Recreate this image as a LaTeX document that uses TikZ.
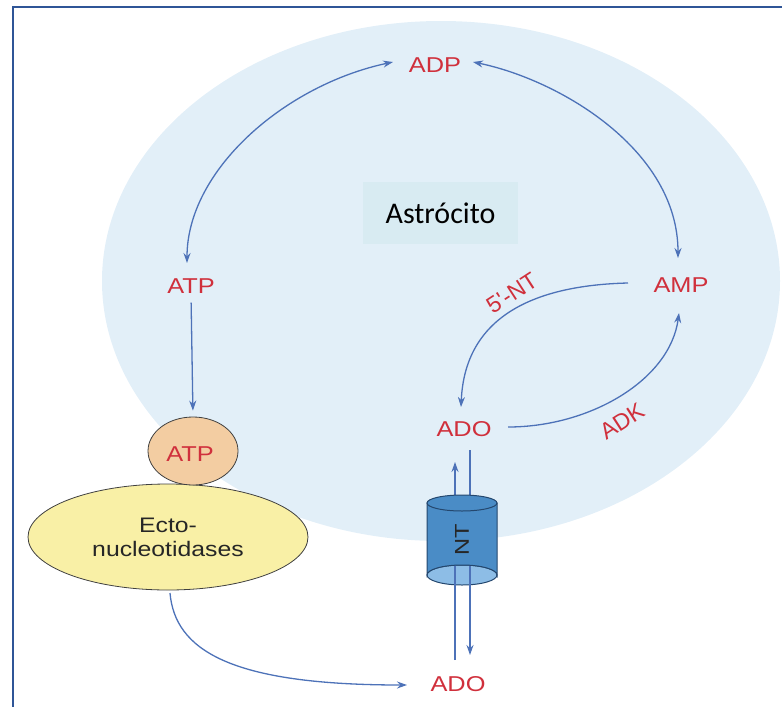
\documentclass[tikz,border=0pt]{standalone}
\usepackage{graphicx}
\usepackage{fontspec}
\setmainfont{Liberation Sans}
\newfontfamily\carlito{Carlito}
\usetikzlibrary{arrows.meta,shapes.geometric}
\definecolor{astro}{HTML}{E2EFF8}
\definecolor{astbox}{HTML}{D8EBF2}
\definecolor{labred}{HTML}{D0303C}
\definecolor{arrblue}{HTML}{4D72B8}
\definecolor{frameblue}{HTML}{2F5597}
\definecolor{atpfill}{HTML}{F3CDA2}
\definecolor{ectofill}{HTML}{F9F0A6}
\definecolor{ntbody}{HTML}{4A8CC6}
\definecolor{ntface}{HTML}{8DBDE6}
\definecolor{ntline}{HTML}{24476E}
\newcommand{\wtxt}[1]{\scalebox{1.18}[1]{#1}}
\tikzset{
  lbl/.style={text=labred, font=\fontsize{21.5}{22}\selectfont, inner sep=1pt},
  rlbl/.style={text=labred, font=\fontsize{23}{23}\selectfont, inner sep=1pt},
  conn/.style={draw=arrblue, line width=1.3pt},
  tipend/.style={-{Stealth[length=10pt,width=7pt]}},
  tipboth/.style={{Stealth[length=10pt,width=7pt]}-{Stealth[length=10pt,width=7pt]}},
}
\begin{document}
\begin{tikzpicture}[x=1pt,y=-1pt]
\useasboundingbox (0,0) rectangle (782,707);
% astrocyte
\fill[astro] (441,281) ellipse [x radius=339, y radius=260];
% frame
\draw[frameblue, line width=2pt] (13,707) -- (13,6.5) -- (782,6.5);
% title box
\node[fill=astbox, minimum width=155pt, minimum height=62pt, inner sep=0pt,
      font=\carlito\fontsize{30}{30}\selectfont] (astro) at (440.5,213) {Astrócito};
% labels
\node[lbl] (adp) at (435,65) {\wtxt{ADP}};
\node[lbl] (atp) at (191,286) {\wtxt{ATP}};
\node[lbl] (amp) at (681,285) {\wtxt{AMP}};
\node[lbl] (adoin) at (464,429) {\wtxt{ADO}};
\node[lbl] (adoout) at (458,684) {\wtxt{ADO}};
\node[rlbl, rotate=33] (nt5) at (512,293) {5\textquotesingle-NT};
\node[rlbl, rotate=33] (adk) at (622,421) {ADK};
% ATP ball and ecto-nucleotidases
\node[ellipse, draw=black!75, line width=0.8pt, fill=ectofill, minimum width=280pt,
      minimum height=106pt, inner sep=0pt, align=center, text=black!85,
      font=\fontsize{21}{24}\selectfont] (ecto) at (168,537)
      {\wtxt{Ecto-}\\\wtxt{nucleotidases}};
\node[ellipse, draw=black!75, line width=0.8pt, fill=atpfill, minimum width=90pt,
      minimum height=68pt, inner sep=0pt] (atpc) at (193,451) {};
\node[lbl] (atpin) at (190,454) {\wtxt{ATP}};
% coordinates for arcs
\coordinate (adpL) at (393,62);
\coordinate (adpR) at (473,62);
\coordinate (atpT) at (187,263);
\coordinate (ampT) at (678,258);
\coordinate (ampL) at (628,283);
\coordinate (adoT) at (461,407);
\coordinate (adoR) at (508,427);
\coordinate (ampB) at (679,313);
\coordinate (ectoB) at (170,593);
\coordinate (adoL) at (407,685);
% arcs
\draw[conn, tipboth] (atpT) .. controls (187,170) and (285,85) .. (adpL);
\draw[conn, tipboth] (adpR) .. controls (560,80) and (678,150) .. (ampT);
\draw[conn, tipend] (ampL) .. controls (545,285) and (465,310) .. (adoT);
\draw[conn, tipend] (adoR) .. controls (590,427) and (670,380) .. (ampB);
\draw[conn, tipend, shorten <=8pt, shorten >=6pt] (atp.south) -- (atpc.north);
\draw[conn, tipend] (ectoB) .. controls (175,650) and (230,685) .. (adoL);
% NT transporter
\coordinate (upS) at (455,660);
\coordinate (upE) at (455,462);
\coordinate (dnS) at (470,450);
\coordinate (dnE) at (470,655);
\fill[ntface, draw=ntline, line width=1pt] (462,575) ellipse [x radius=35, y radius=10];
\draw[conn, tipend] (upS) -- (upE);
\draw[conn, tipend] (dnS) -- (dnE);
\path[fill=ntbody, draw=ntline, line width=1pt] (427,503) -- (427,575)
   arc[start angle=180, end angle=360, x radius=35, y radius=10] -- (497,503) -- cycle;
\draw[fill=ntbody, draw=ntline, line width=1pt] (462,503) ellipse [x radius=35, y radius=8];
\node[rotate=90, text=black!85, font=\fontsize{20}{20}\selectfont, inner sep=0pt] (nt) at (462,540) {\wtxt{NT}};
\end{tikzpicture}
\end{document}
